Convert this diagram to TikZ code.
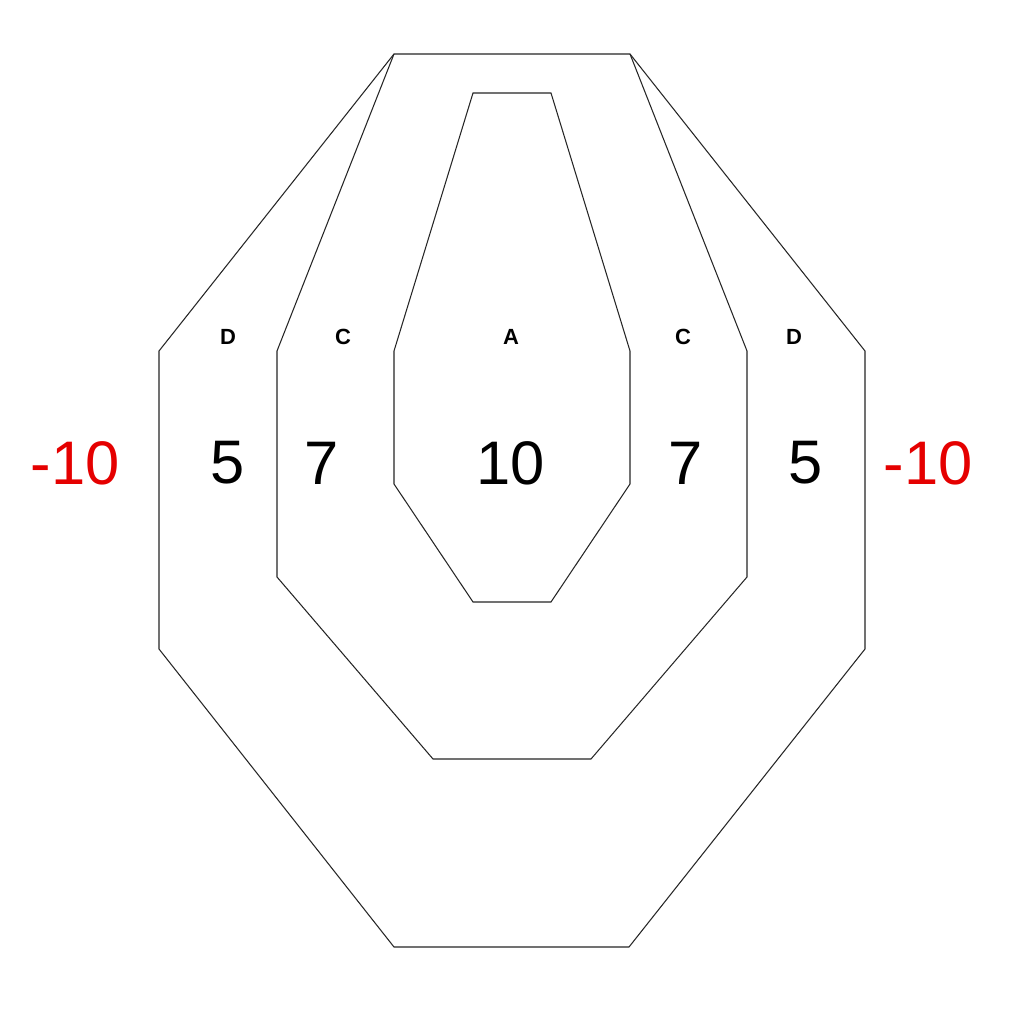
\documentclass[tikz,border=0pt]{standalone}
\usepackage{fontspec}
\setmainfont{Liberation Sans}
\begin{document}
\begin{tikzpicture}[x=0.02cm,y=-0.02cm,
  zone/.style={draw=black!85,line width=0.6pt,line join=miter},
  zlabel/.style={font=\fontsize{12.5}{14}\selectfont\bfseries,text=black},
  score/.style={font=\fontsize{35}{40}\selectfont,text=black},
  penalty/.style={font=\fontsize{35}{40}\selectfont,text=red!90!black}]
\useasboundingbox (0,0) rectangle (1024,1024);
\fill[white] (0,0) rectangle (1024,1024);
% D zone
\draw[zone] (394,54) -- (630,54) -- (865,351) -- (865,649) -- (629,947) -- (394,947) -- (159,649) -- (159,351) -- cycle;
% C zone
\draw[zone] (394,54) -- (277,351) -- (277,577) -- (433,759) -- (591,759) -- (747,577) -- (747,351) -- (630,54);
% A zone
\draw[zone] (473,93) -- (551,93) -- (630,351) -- (630,484) -- (551,602) -- (473,602) -- (394,484) -- (394,351) -- cycle;
% zone letters
\node[zlabel] (ld) at (228,337) {D};
\node[zlabel] (lc) at (343,337) {C};
\node[zlabel] (la) at (511,337) {A};
\node[zlabel] (rc) at (683,337) {C};
\node[zlabel] (rd) at (794,337) {D};
% scores
\node[score] (s5l) at (228,463) {5};
\node[score] (s7l) at (322,463) {7};
\node[score] (s10) at (511,463) {10};
\node[score] (s7r) at (686,463) {7};
\node[score] (s5r) at (806,463) {5};
\node[penalty] (pl) at (75,463) {-10};
\node[penalty] (pr) at (928,463) {-10};
\end{tikzpicture}
\end{document}
